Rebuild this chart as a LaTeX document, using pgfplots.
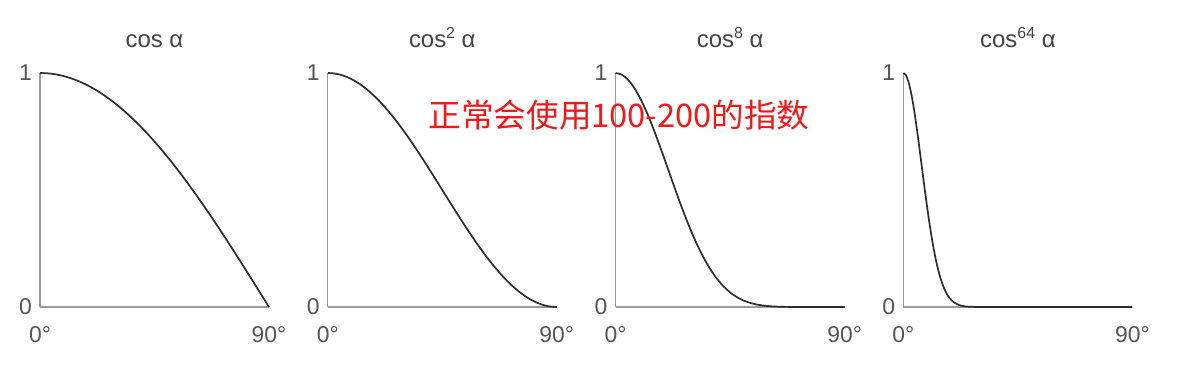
\documentclass[border=0pt]{standalone}
\usepackage{pgfplots}
\pgfplotsset{compat=1.18}
\usepackage{fontspec}
\setmainfont{Liberation Sans}
\newfontfamily\cjk{Noto Sans CJK SC}
\definecolor{curvec}{HTML}{2E2E2E}
\definecolor{axisc}{HTML}{9A9A9A}
\definecolor{labc}{HTML}{555555}
\definecolor{titc}{HTML}{444444}
\definecolor{redc}{HTML}{F21818}
\newcommand{\supr}[1]{{\fontsize{16}{16}\selectfont\raisebox{0.55em}{#1}}}
\tikzset{curve/.style={draw=curvec, line width=1.7bp, mark=none, smooth}}
\pgfplotsset{panel/.style={
  scale only axis, width=229bp, height=234bp,
  anchor=south west,
  xmin=0,xmax=90,ymin=0,ymax=1,
  axis lines*=left, axis line style={-, draw=axisc, line width=1.1bp},
  xtick={0,90}, xticklabels={0°,90°},
  ytick={0,1}, yticklabels={0,1},
  major tick length=0pt,
  tick label style={font=\fontsize{23}{25}\selectfont, text=labc},
  xticklabel style={anchor=base, inner sep=0pt, yshift=-36bp},
  yticklabel style={anchor=east, inner sep=0pt, xshift=-8bp},
  title style={at={(0.5,1)}, anchor=base, yshift=20bp, font=\fontsize{24}{26}\selectfont, text=titc, inner sep=0pt},
  clip=false,
}}
\begin{document}
\begin{tikzpicture}
\fill[white] (0,0) rectangle (1179bp,376bp);
\path[use as bounding box] (0,0) rectangle (1179bp,376bp);

\begin{axis}[panel, at={(40bp,69bp)}, title={cos α}]
\addplot[curve] coordinates {(0,1) (2.5,0.999048) (5,0.996195) (7.5,0.991445) (10,0.984808) (12.5,0.976296) (15,0.965926) (17.5,0.953717) (20,0.939693) (22.5,0.923880) (25,0.906308) (27.5,0.887011) (30,0.866025) (32.5,0.843391) (35,0.819152) (37.5,0.793353) (40,0.766044) (42.5,0.737277) (45,0.707107) (47.5,0.675590) (50,0.642788) (52.5,0.608761) (55,0.573576) (57.5,0.537300) (60,0.5) (62.5,0.461749) (65,0.422618) (67.5,0.382683) (70,0.342020) (72.5,0.300706) (75,0.258819) (77.5,0.216440) (80,0.173648) (82.5,0.130526) (85,0.087156) (87.5,0.043619) (90,0)};
\end{axis}

\begin{axis}[panel, at={(327.8bp,69bp)}, title={cos\supr{2} α}]
\addplot[curve] coordinates {(0,1) (2.5,0.998097) (5,0.992404) (7.5,0.982963) (10,0.969846) (12.5,0.953154) (15,0.933013) (17.5,0.909576) (20,0.883022) (22.5,0.853553) (25,0.821394) (27.5,0.786788) (30,0.75) (32.5,0.711309) (35,0.671010) (37.5,0.629410) (40,0.586824) (42.5,0.543578) (45,0.5) (47.5,0.456422) (50,0.413176) (52.5,0.370590) (55,0.328990) (57.5,0.288691) (60,0.25) (62.5,0.213212) (65,0.178606) (67.5,0.146447) (70,0.116978) (72.5,0.090424) (75,0.066987) (77.5,0.046846) (80,0.030154) (82.5,0.017037) (85,0.007596) (87.5,0.001903) (90,0)};
\end{axis}

\begin{axis}[panel, at={(615.6bp,69bp)}, title={cos\supr{8} α}]
\addplot[curve] coordinates {(0,1) (2.5,0.992410) (5,0.969961) (7.5,0.933573) (10,0.884730) (12.5,0.825378) (15,0.757793) (17.5,0.684472) (20,0.607976) (22.5,0.530790) (25,0.455204) (27.5,0.383204) (30,0.316406) (32.5,0.255995) (35,0.202729) (37.5,0.156940) (40,0.118585) (42.5,0.087307) (45,0.0625) (47.5,0.043398) (50,0.029143) (52.5,0.018861) (55,0.011715) (57.5,0.006946) (60,0.003906) (62.5,0.002067) (65,0.001018) (67.5,0.000460) (70,0.000187) (75,0.00002) (80,0) (85,0) (90,0)};
\end{axis}

\begin{axis}[panel, at={(903.4bp,69bp)}, title={cos\supr{64} α}]
\addplot[curve] coordinates {(0,1) (1,0.99030) (2,0.96175) (3,0.91597) (4,0.85548) (5,0.78347) (6,0.70358) (7,0.61955) (8,0.53479) (9,0.45257) (10,0.37541) (11,0.30519) (12,0.24313) (13,0.18982) (14,0.14518) (15,0.10874) (16,0.07978) (17,0.05732) (18,0.04030) (19,0.02773) (20,0.01867) (22,0.00792) (24,0.00307) (26,0.00108) (28,0.00035) (30,0.0001) (35,0) (45,0) (60,0) (75,0) (90,0)};
\end{axis}

\node[font=\cjk\fontsize{32.7}{34}\selectfont, text=redc, inner sep=0pt] at (619bp,261bp) {正常会使用100-200的指数};
\end{tikzpicture}
\end{document}
